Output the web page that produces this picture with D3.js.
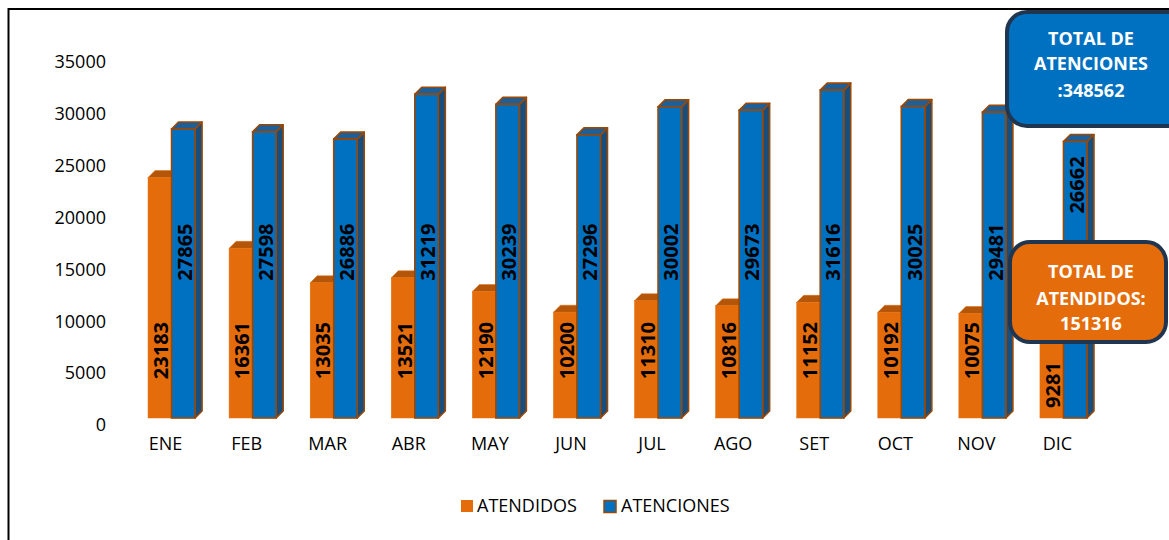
<!DOCTYPE html>
<html><head><meta charset="utf-8">
<script src="https://cdn.jsdelivr.net/npm/d3@7"></script>
<style>
html,body{margin:0;padding:0;background:#fff;}
svg{display:block;font-family:"Open Sans",sans-serif;}
</style></head>
<body><svg id="c" width="1169" height="540"></svg>
<script>
const months = ["ENE","FEB","MAR","ABR","MAY","JUN","JUL","AGO","SET","OCT","NOV","DIC"];
const atendidos = [23183,16361,13035,13521,12190,10200,11310,10816,11152,10192,10075,9281];
const atenciones = [27865,27598,26886,31219,30239,27296,30002,29673,31616,30025,29481,26662];
const seriesNames = ["ATENDIDOS","ATENCIONES"];
const yTicks = [0,5000,10000,15000,20000,25000,30000,35000];
const totalAtenciones = ["TOTAL DE","ATENCIONES",":348562"];
const totalAtendidos = ["TOTAL DE","ATENDIDOS:","151316"];

const svg = d3.select("#c");
const depth = 7;
// chart border
svg.append("rect").attr("x",8.5).attr("y",9).attr("width",1175).attr("height",560)
  .attr("fill","#fff").attr("stroke","#000").attr("stroke-width",2);

const y = d3.scaleLinear().domain([0,35000]).range([425,62]);
const x = d3.scaleBand().domain(months).range([131,1104]).paddingInner(0.42).paddingOuter(0.21);
const x1 = d3.scaleBand().domain(seriesNames).range([0,x.bandwidth()]);

// y axis labels
const yAxis = d3.axisLeft(y).tickValues(yTicks).tickSize(0).tickPadding(0).tickFormat(d3.format("d"));
const ga = svg.append("g").attr("transform","translate(106,0)").call(yAxis);
ga.select(".domain").remove();
ga.selectAll("text").attr("font-size",18).attr("fill","#000").attr("font-family","Open Sans");

// x labels
const xAxis = d3.axisBottom(x).tickSize(0).tickPadding(0);
const gx = svg.append("g").attr("transform","translate(-6,437)").call(xAxis);
gx.select(".domain").remove();
gx.selectAll("text").attr("font-size",18).attr("fill","#000").attr("font-family","Open Sans");

const styles = {
  ATENDIDOS:{front:"#E46C0A",top:"#B3560A",side:"#A24E0B",stroke:"#E46C0A",sw:0.5},
  ATENCIONES:{front:"#0070C0",top:"#1E5F98",side:"#184E7E",stroke:"#984807",sw:1.6}
};
const data = [];
months.forEach((m,i)=>{
  data.push({m, s:"ATENDIDOS", v:atendidos[i]});
  data.push({m, s:"ATENCIONES", v:atenciones[i]});
});
const bars = svg.append("g").selectAll("g").data(data).join("g");
bars.each(function(d){
  const g = d3.select(this);
  const st = styles[d.s];
  const x0 = x(d.m)+x1(d.s), w = x1.bandwidth();
  const yt = y(d.v)-depth, yb = y(0)-depth;
  g.append("path").attr("d",`M${x0+w},${yt}L${x0+w+depth},${yt-depth}L${x0+w+depth},${yb-depth}L${x0+w},${yb}Z`)
    .attr("fill",st.side).attr("stroke",st.stroke).attr("stroke-width",st.sw).attr("stroke-linejoin","round");
  g.append("path").attr("d",`M${x0},${yt}L${x0+depth},${yt-depth}L${x0+w+depth},${yt-depth}L${x0+w},${yt}Z`)
    .attr("fill",st.top).attr("stroke",st.stroke).attr("stroke-width",st.sw).attr("stroke-linejoin","round");
  g.append("rect").attr("x",x0).attr("y",yt).attr("width",w).attr("height",yb-yt)
    .attr("fill",st.front).attr("stroke",st.stroke).attr("stroke-width",st.sw);
});

// callout box geometry
const boxA = {x:1007,y:12,w:180,h:114};
const boxB = {x:1010,y:242,w:156,h:100};

// value labels (moved clear of the callout box when they would overlap it)
const labelCenter = {ATENDIDOS:6500, ATENCIONES:16000};
const halfLen = 30;
bars.append("text")
  .attr("transform",d=>{
    const cx = x(d.m)+x1(d.s)+x1.bandwidth()/2;
    let cy = y(labelCenter[d.s])-depth;
    const overlapX = cx+12 > boxB.x;
    const overlapY = cy+halfLen > boxB.y && cy-halfLen < boxB.y+boxB.h;
    if (overlapX && overlapY) {
      cy = d.s==="ATENCIONES" ? boxB.y-57 : boxB.y+boxB.h+43;
    }
    return `translate(${cx+1},${cy}) rotate(-90)`;
  })
  .attr("text-anchor","middle").attr("dominant-baseline","central")
  .attr("font-size",20).attr("font-weight","bold").attr("fill","#000")
  .text(d=>d.v);

// callout boxes
function callout(b,fill,lines,baselines){
  svg.append("rect").attr("x",b.x).attr("y",b.y).attr("width",b.w).attr("height",b.h).attr("rx",20)
    .attr("fill",fill).attr("stroke","#1F3550").attr("stroke-width",4);
  lines.forEach((t,i)=>{
    svg.append("text").attr("x",1091).attr("y",baselines[i]).attr("text-anchor","middle")
      .attr("fill","#fff").attr("font-weight","bold").attr("font-size",18).text(t);
  });
}
callout(boxA,"#0070C0",totalAtenciones,[45,70,97]);
callout(boxB,"#E46C0A",totalAtendidos,[278,305,330]);

// legend
const lg = svg.append("g");
lg.append("rect").attr("x",461).attr("y",500).attr("width",12).attr("height",12).attr("fill",styles.ATENDIDOS.front);
lg.append("text").attr("x",477).attr("y",512).attr("font-size",18).attr("fill","#000").text("ATENDIDOS");
lg.append("rect").attr("x",604).attr("y",500.5).attr("width",12).attr("height",12).attr("fill",styles.ATENCIONES.front)
  .attr("stroke",styles.ATENCIONES.stroke).attr("stroke-width",1.5);
lg.append("text").attr("x",621).attr("y",512).attr("font-size",18).attr("fill","#000").text("ATENCIONES");
</script></body></html>
